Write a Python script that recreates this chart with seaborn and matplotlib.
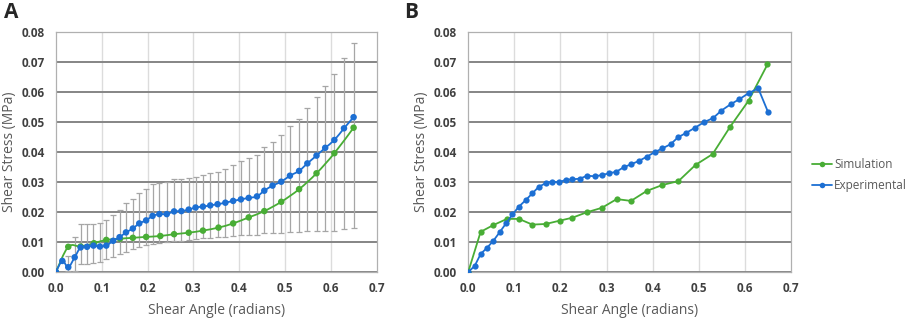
# shear stress vs shear angle, panels A and B

import numpy as np
import pandas as pd
import matplotlib
matplotlib.use("Agg")
import matplotlib.pyplot as plt
from matplotlib.path import Path
from matplotlib.patches import PathPatch
from matplotlib.lines import Line2D
import seaborn as sns

# experimental shear angles (same for both panels)
exp_angle = [0, 0.014, 0.027, 0.041, 0.054, 0.068, 0.082, 0.096, 0.110, 0.125,
             0.139, 0.153, 0.168, 0.182, 0.197, 0.211, 0.226, 0.242, 0.258, 0.274,
             0.290, 0.305, 0.321, 0.337, 0.353, 0.370, 0.387, 0.404, 0.421, 0.439,
             0.455, 0.473, 0.492, 0.511, 0.531, 0.549, 0.569, 0.588, 0.608, 0.629, 0.650]

# panel A - experimental mean and error bar ends
a_exp = [0, 0.0037, 0.0016, 0.0049, 0.0082, 0.0084, 0.0088, 0.0085, 0.0088, 0.0104,
         0.0116, 0.0132, 0.0145, 0.0162, 0.0172, 0.0187, 0.0193, 0.0193, 0.0202, 0.0203,
         0.0208, 0.0215, 0.0218, 0.0222, 0.0226, 0.0231, 0.0237, 0.0242, 0.0247, 0.0252,
         0.0271, 0.0288, 0.0301, 0.0321, 0.0337, 0.0362, 0.0388, 0.0414, 0.0440, 0.0479, 0.0516]
a_err_top = [0, 0.0037, 0.0052, 0.0118, 0.0160, 0.0160, 0.0161, 0.0164, 0.0172, 0.0190,
             0.0207, 0.0229, 0.0243, 0.0265, 0.0276, 0.0293, 0.0298, 0.0299, 0.0309, 0.0309,
             0.0312, 0.0318, 0.0323, 0.0329, 0.0334, 0.0344, 0.0357, 0.0370, 0.0380, 0.0390,
             0.0417, 0.0435, 0.0458, 0.0486, 0.0510, 0.0546, 0.0583, 0.0620, 0.0661, 0.0713, 0.0765]
a_err_bot = [0, 0.0037, 0.0002, 0.0004, 0.0027, 0.0027, 0.0029, 0.0034, 0.0042, 0.0051,
             0.0060, 0.0068, 0.0076, 0.0083, 0.0089, 0.0094, 0.0098, 0.0099, 0.0103, 0.0105,
             0.0107, 0.0110, 0.0112, 0.0114, 0.0116, 0.0118, 0.0120, 0.0122, 0.0123, 0.0123,
             0.0129, 0.0129, 0.0130, 0.0134, 0.0134, 0.0136, 0.0136, 0.0137, 0.0137, 0.0142, 0.0146]

# panel A - simulation
a_sim_angle = [0, 0.027, 0.054, 0.083, 0.110, 0.140, 0.168, 0.197, 0.228, 0.258, 0.290,
               0.321, 0.355, 0.387, 0.421, 0.455, 0.492, 0.531, 0.569, 0.608, 0.650]
a_sim = [0, 0.0084, 0.0085, 0.0096, 0.0107, 0.0111, 0.0114, 0.0117, 0.0120, 0.0126, 0.0131,
         0.0138, 0.0148, 0.0162, 0.0182, 0.0203, 0.0234, 0.0276, 0.0329, 0.0396, 0.0481]

# panel B
b_exp = [0, 0.0020, 0.0060, 0.0081, 0.0103, 0.0132, 0.0162, 0.0192, 0.0218, 0.0240,
         0.0262, 0.0284, 0.0296, 0.0301, 0.0299, 0.0307, 0.0309, 0.0311, 0.0321, 0.0319,
         0.0323, 0.0329, 0.0334, 0.0349, 0.0359, 0.0370, 0.0384, 0.0399, 0.0412, 0.0426,
         0.0449, 0.0464, 0.0481, 0.0499, 0.0513, 0.0538, 0.0559, 0.0576, 0.0596, 0.0612, 0.0534]
b_sim_angle = [0, 0.027, 0.054, 0.084, 0.110, 0.139, 0.168, 0.198, 0.226, 0.257, 0.290,
               0.322, 0.353, 0.387, 0.421, 0.456, 0.493, 0.530, 0.568, 0.608, 0.649]
b_sim = [0, 0.0134, 0.0156, 0.0177, 0.0177, 0.0158, 0.0160, 0.0171, 0.0181, 0.0199, 0.0214,
         0.0243, 0.0237, 0.0270, 0.0290, 0.0303, 0.0357, 0.0393, 0.0484, 0.0571, 0.0692]

x_ticks = [0.0, 0.1, 0.2, 0.3, 0.4, 0.5, 0.6, 0.7]
y_ticks = [0.00, 0.01, 0.02, 0.03, 0.04, 0.05, 0.06, 0.07, 0.08]

GREEN = "#48ad35"
BLUE = "#1c6fd3"
TXT = "#595959"

sns.set_style("white")
plt.rcParams['font.family'] = ['Open Sans', 'DejaVu Sans']

fig = plt.figure(figsize=(9.13, 3.2), dpi=100)
axA = fig.add_axes([55.9 / 913, 48 / 320, 320.6 / 913, 240 / 320])
axB = fig.add_axes([468.2 / 913, 48 / 320, 322.8 / 913, 240 / 320])


def smooth_path(x, y):
    # excel "smoothed line": catmull-rom turned into cubic beziers
    pts = np.column_stack([x, y])
    n = len(pts)
    verts = [pts[0]]
    codes = [Path.MOVETO]
    for i in range(n - 1):
        p0 = pts[max(i - 1, 0)]
        p1 = pts[i]
        p2 = pts[i + 1]
        p3 = pts[min(i + 2, n - 1)]
        verts += [p1 + (p2 - p0) / 6, p2 - (p3 - p1) / 6, p2]
        codes += [Path.CURVE4] * 3
    return Path(verts, codes)


def style(ax, ylab_x):
    ax.set_xlim(0, 0.7)
    ax.set_ylim(0, 0.08)
    ax.set_xticks(x_ticks)
    ax.set_yticks(y_ticks)
    ax.set_xticklabels([f"{v:.1f}" for v in x_ticks])
    ax.set_yticklabels([f"{v:.2f}" for v in y_ticks])
    ax.grid(False)
    for v in x_ticks[1:-1]:
        ax.axvline(v, color="#dcdcdc", lw=1.0, zorder=0)
    for v in y_ticks:
        ax.axhline(v, color="#858585", lw=1.4, zorder=0.5)
    for s in ax.spines.values():
        s.set_color("#b0b0b0")
        s.set_linewidth(0.9)
    ax.tick_params(length=0, labelsize=8.5, labelcolor="#404040")
    ax.tick_params(axis="y", pad=8)
    ax.tick_params(axis="x", pad=7)
    for lab in ax.get_xticklabels() + ax.get_yticklabels():
        lab.set_fontweight("bold")
    ax.set_xlabel("Shear Angle (radians)", fontsize=10, color=TXT, labelpad=6)
    ax.set_ylabel("Shear Stress (MPa)", fontsize=10, color=TXT)
    ax.yaxis.set_label_coords(ylab_x, 0.5)


# ---- panel A ----
err = np.array([np.array(a_exp) - np.array(a_err_bot), np.array(a_err_top) - np.array(a_exp)])
axA.errorbar(exp_angle, a_exp, yerr=err, fmt="none", ecolor="#a6a6a6",
             elinewidth=0.9, capsize=2, capthick=0.9, zorder=2)
axA.add_patch(PathPatch(smooth_path(a_sim_angle, a_sim), fill=False, edgecolor=GREEN, lw=1.3, zorder=3))
sns.scatterplot(x=a_sim_angle, y=a_sim, color=GREEN, s=22, edgecolor="none", ax=axA, zorder=3)
axA.add_patch(PathPatch(smooth_path(exp_angle, a_exp), fill=False, edgecolor=BLUE, lw=1.3, zorder=4))
sns.scatterplot(x=exp_angle, y=a_exp, color=BLUE, s=22, edgecolor="none", ax=axA, zorder=4)
style(axA, -0.12)

# ---- panel B ----
dfB_sim = pd.DataFrame({"angle": b_sim_angle, "stress": b_sim})
dfB_exp = pd.DataFrame({"angle": exp_angle, "stress": b_exp})
sns.lineplot(data=dfB_sim, x="angle", y="stress", color=GREEN, lw=1.3, marker="o",
             markersize=4.5, markeredgewidth=0, sort=False, ax=axB, zorder=3)
sns.lineplot(data=dfB_exp, x="angle", y="stress", color=BLUE, lw=1.3, marker="o",
             markersize=4.5, markeredgewidth=0, sort=False, ax=axB, zorder=4)
style(axB, -0.122)

handles = [Line2D([], [], color=GREEN, lw=1.3, marker="o", markersize=4, markeredgewidth=0),
           Line2D([], [], color=BLUE, lw=1.3, marker="o", markersize=4, markeredgewidth=0)]
axB.legend(handles, ["Simulation", "Experimental"], loc="center left",
           bbox_to_anchor=(1.066, 0.405), frameon=False, fontsize=8.5,
           borderpad=0, borderaxespad=0,
           handlelength=1.7, handletextpad=0.15, labelcolor=TXT, labelspacing=0.7)

fig.text(4 / 913, 1 - 2 / 320, "A", fontsize=15, fontweight="bold", va="top", ha="left")
fig.text(404 / 913, 1 - 2 / 320, "B", fontsize=15, fontweight="bold", va="top", ha="left")

fig.savefig("out.png", dpi=100)
